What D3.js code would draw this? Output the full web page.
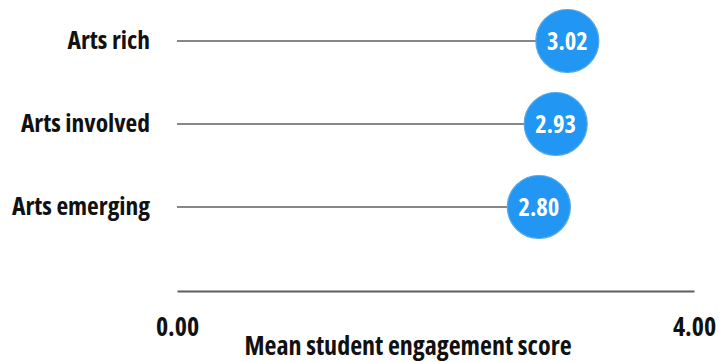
<!DOCTYPE html>
<html>
<head>
<meta charset="utf-8">
<script src="https://cdn.jsdelivr.net/npm/d3@7"></script>
<style>
  html, body { margin: 0; padding: 0; background: #fff; }
  svg text { font-family: "Open Sans", "DejaVu Sans Condensed", sans-serif; font-stretch: 75%; font-weight: 700; }
</style>
</head>
<body>
<svg id="chart" width="719" height="362"></svg>
<script>
// Mean student engagement by school arts level
const categories = ["Arts rich", "Arts involved", "Arts emerging"];
const scores = [3.02, 2.93, 2.80];
const axisTicks = [0, 4];
const axisTitle = "Mean student engagement score";

const svg = d3.select("#chart");

const x = d3.scaleLinear().domain([0, 4]).range([177, 694]);
const y = d3.scalePoint().domain(categories).range([41, 207]);
const axisY = 291;

// stems from zero to each score
svg.selectAll("line.stem")
  .data(categories)
  .join("line")
  .attr("class", "stem")
  .attr("x1", x(0))
  .attr("x2", (d, i) => x(scores[i]))
  .attr("y1", d => y(d))
  .attr("y2", d => y(d))
  .attr("stroke", "#5f5f5f")
  .attr("stroke-width", 1.6);

// category labels
svg.selectAll("text.cat")
  .data(categories)
  .join("text")
  .attr("class", "cat")
  .attr("x", 150)
  .attr("y", d => y(d))
  .attr("dy", "0.32em")
  .attr("text-anchor", "end")
  .attr("font-size", 25.5)
  .attr("fill", "#111")
  .text(d => d);

// value bubbles
const dots = svg.selectAll("g.dot")
  .data(categories)
  .join("g")
  .attr("class", "dot")
  .attr("transform", (d, i) => `translate(${x(scores[i])},${y(d)})`);

dots.append("circle")
  .attr("r", 31.5)
  .attr("fill", "#2196f3")
  .attr("stroke", "#58a8e8")
  .attr("stroke-width", 1.2);

dots.append("text")
  .attr("text-anchor", "middle")
  .attr("dy", "0.36em")
  .attr("font-size", 24.5)
  .attr("fill", "#fff")
  .text((d, i) => d3.format(".2f")(scores[i]));

// x axis
const axis = svg.append("g")
  .attr("transform", `translate(0,${axisY})`)
  .call(d3.axisBottom(x).tickValues(axisTicks).tickFormat(d3.format(".2f")).tickSize(0).tickPadding(27));

axis.select(".domain").attr("stroke", "#5f5f5f").attr("stroke-width", 1.8);
axis.selectAll(".tick text")
  .attr("font-size", 26)
  .attr("fill", "#111");
axis.attr("font-family", null);

svg.append("text")
  .attr("x", 408)
  .attr("y", 355)
  .attr("text-anchor", "middle")
  .attr("font-size", 26)
  .attr("fill", "#111")
  .text(axisTitle);
</script>
</body>
</html>
